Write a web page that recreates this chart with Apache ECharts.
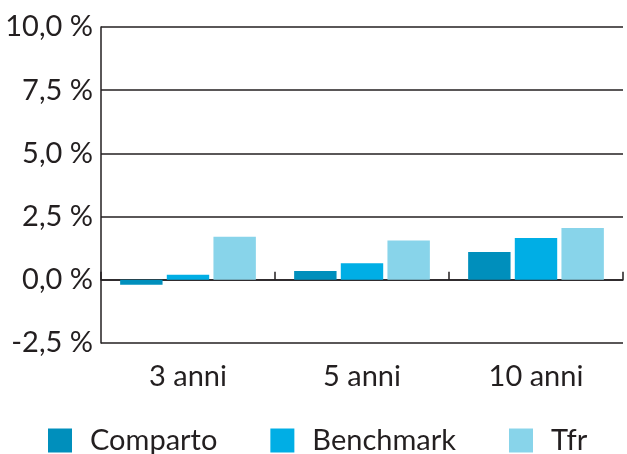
<!DOCTYPE html>
<html>
<head>
<meta charset="utf-8">
<script src="https://cdn.jsdelivr.net/npm/echarts@6/dist/echarts.min.js"></script>
<style>
  html, body { margin: 0; padding: 0; background: #fff; }
  #chart { width: 627px; height: 454px; }
</style>
</head>
<body>
<div id="chart"></div>
<script>
// dati
var categories = ['3 anni', '5 anni', '10 anni']
var seriesNames = ['Comparto', 'Benchmark', 'Tfr']
var comparto = [-0.2, 0.35, 1.1]
var benchmark = [0.2, 0.65, 1.65]
var tfr = [1.7, 1.55, 2.05]
var colors = ['#008fbc', '#00aee5', '#88d4ea']

var font = 'Lato'
var fontSize = 29
var lineColor = '#231f20'

var myChart = echarts.init(document.getElementById('chart'))

function bar (name, data, color) {
  return {
    name: name,
    type: 'bar',
    xAxisIndex: 0,
    data: data,
    barGap: '10%',
    barCategoryGap: '22%',
    itemStyle: { color: color },
    emphasis: { disabled: true }
  }
}

var option = {
  animation: false,
  color: colors,
  grid: {
    left: 101,
    right: 4,
    top: 27,
    bottom: 111
  },
  legend: {
    left: 48,
    top: 426,
    padding: 0,
    itemWidth: 24,
    itemHeight: 24,
    itemGap: 53,
    icon: 'rect',
    data: seriesNames,
    textStyle: {
      fontFamily: font,
      fontSize: fontSize,
      color: '#231f20',
      padding: [0, 0, 0, 13]
    }
  },
  xAxis: [
    {
      type: 'category',
      data: categories,
      position: 'bottom',
      axisLine: { show: false, onZero: false },
      axisTick: { show: false },
      axisLabel: {
        margin: 19,
        fontFamily: font,
        fontSize: fontSize,
        color: '#231f20'
      }
    },
    {
      // asse sullo zero con le tacche interne
      type: 'category',
      data: categories,
      position: 'bottom',
      axisLine: { show: true, onZero: true, lineStyle: { color: lineColor, width: 1.5 } },
      axisTick: { show: true, inside: true, length: 8, lineStyle: { color: lineColor, width: 1.5 } },
      axisLabel: { show: false }
    }
  ],
  yAxis: {
    type: 'value',
    min: -2.5,
    max: 10,
    interval: 2.5,
    axisLine: { show: true, lineStyle: { color: lineColor, width: 1.5 } },
    axisTick: { show: false },
    splitLine: { show: true, lineStyle: { color: lineColor, width: 1.5 } },
    axisLabel: {
      margin: 8,
      fontFamily: font,
      fontSize: fontSize,
      color: '#231f20',
      formatter: function (v) {
        return v.toFixed(1).replace('.', ',') + ' %'
      }
    }
  },
  series: [
    bar(seriesNames[0], comparto, colors[0]),
    bar(seriesNames[1], benchmark, colors[1]),
    bar(seriesNames[2], tfr, colors[2])
  ]
}
myChart.setOption(option)
</script>
</body>
</html>
